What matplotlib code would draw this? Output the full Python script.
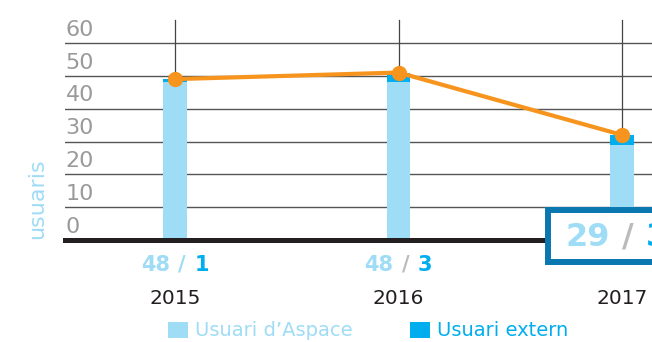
import matplotlib
matplotlib.use("Agg")
import matplotlib.pyplot as plt
from matplotlib.patches import Rectangle
from matplotlib.offsetbox import TextArea, HPacker, AnnotationBbox

years = ["2015", "2016", "2017"]
aspace = [48, 48, 29]
extern = [1, 3, 3]
total = [a + e for a, e in zip(aspace, extern)]
yticks = [0, 10, 20, 30, 40, 50, 60]

light = "#9fdcf6"
blue = "#00aeef"
orange = "#f7941d"
slash_grey = "#bbbbbb"

W, H = 652, 342
fig = plt.figure(figsize=(W / 100, H / 100), dpi=100)

# axes laid out in pixels: left 65, baseline at y=240, 223.5 px per year
px = 223.5
left_px, base_px, ppu = 65, 240, 197 / 60
x0 = (left_px - 175) / px
x1 = (W - 175) / px
ytop = 70
ax = fig.add_axes([left_px / W, (H - base_px) / H, 1 - left_px / W, ytop * ppu / H])
ax.set_xlim(x0, x1)
ax.set_ylim(0, ytop)
ax.axis("off")

x = list(range(len(years)))

# gridlines and tick labels sitting just above each line
for v in yticks[1:]:
    ax.axhline(v, color="#555555", lw=1.0, zorder=1)
for v in yticks:
    ax.text(x0 + 0.002, v + 2.2, str(v), color="#9a9a9a", fontsize=16,
            ha="left", va="baseline", zorder=2)

# vertical year lines
for xi in x:
    ax.plot([xi, xi], [0, 67], color="#444444", lw=0.9, zorder=1)

bw = 0.107
ax.bar(x, aspace, width=bw, color=light, zorder=3)
ax.bar(x, extern, width=bw, bottom=aspace, color=blue, zorder=3)

ax.plot(x, total, color=orange, lw=3, marker="o", markersize=10, zorder=5)

# thick baseline
ax.axhline(0, color="#231f20", lw=3.6, zorder=4, clip_on=False)

fig.text(37 / W, 1 - 199 / H, "usuaris", color=light, fontsize=16,
         rotation=90, ha="center", va="center")

# value labels under the first two years
slash_cols = [light, slash_grey]
for xi, a, e, sc in zip(x[:2], aspace[:2], extern[:2], slash_cols):
    parts = [TextArea(str(a), textprops=dict(color=light, fontsize=15, fontweight="bold")),
             TextArea("/", textprops=dict(color=sc, fontsize=15, fontweight="bold")),
             TextArea(str(e), textprops=dict(color=blue, fontsize=15, fontweight="bold"))]
    pack = HPacker(children=parts, pad=0, sep=6, align="baseline")
    ab = AnnotationBbox(pack, (xi, 0), xybox=(0, -(265 - base_px)),
                        boxcoords="offset pixels", frameon=False,
                        box_alignment=(0.5, 0.5), annotation_clip=False)
    ax.add_artist(ab)

# year labels
for xi, yr in zip(x, years):
    ax.annotate(yr, (xi, 0), xytext=(0, -(298 - base_px)), textcoords="offset pixels",
                ha="center", va="center", fontsize=14.5, color="#231f20",
                annotation_clip=False)

# highlighted box for the last year
fig.add_artist(Rectangle((548 / W, 1 - 262 / H), 120 / W, 52 / H,
                         transform=fig.transFigure, facecolor="white",
                         edgecolor="#0b77b0", lw=4.3, zorder=10))
parts = [TextArea(str(aspace[2]), textprops=dict(color=light, fontsize=23, fontweight="bold")),
         TextArea("/", textprops=dict(color=slash_grey, fontsize=23, fontweight="bold")),
         TextArea(str(extern[2]), textprops=dict(color=blue, fontsize=23, fontweight="bold"))]
pack = HPacker(children=parts, pad=0, sep=9, align="baseline")
ab = AnnotationBbox(pack, (565 / W, 1 - 237 / H), xycoords="figure fraction",
                    frameon=False, box_alignment=(0, 0.5), annotation_clip=False)
ab.set_zorder(11)
fig.add_artist(ab)

# legend
for sx, label, col in [(168, "Usuari d\u2019Aspace", light), (410, "Usuari extern", blue)]:
    fig.add_artist(Rectangle((sx / W, 1 - 338 / H), 20 / W, 16 / H,
                             transform=fig.transFigure, facecolor=col, edgecolor="none"))
    fig.text((sx + 27) / W, 1 - 330 / H, label, color=col, fontsize=14,
             ha="left", va="center")

fig.savefig("out.png", dpi=100)
